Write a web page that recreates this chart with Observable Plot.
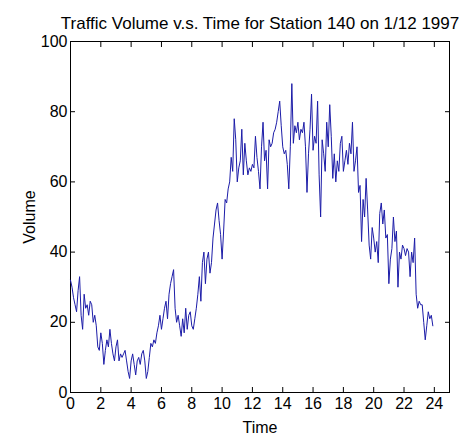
<!DOCTYPE html>
<html><head><meta charset="utf-8">
<script src="https://cdn.jsdelivr.net/npm/d3@7"></script>
<script src="https://cdn.jsdelivr.net/npm/@observablehq/plot@0.6"></script>
<style>
body{margin:0;background:#fff}
svg{font-family:"Liberation Sans",Arial,Helvetica,sans-serif}
</style>
</head><body><div id="chart"></div>
<script>
const title = "Traffic Volume v.s. Time for Station 140 on 1/12 1997";
const xLabel = "Time";
const yLabel = "Volume";
const xTicks = [0,2,4,6,8,10,12,14,16,18,20,22,24];
const yTicks = [0,20,40,60,80,100];

const times = [
 0.0,0.1,0.2,0.3,0.4,0.5,0.6,0.7,0.8,0.9,
 1.0,1.1,1.2,1.3,1.4,1.5,1.6,1.7,1.8,1.9,
 2.0,2.1,2.2,2.3,2.4,2.5,2.6,2.7,2.8,2.9,
 3.0,3.1,3.2,3.3,3.4,3.5,3.6,3.7,3.8,3.9,
 4.0,4.1,4.2,4.3,4.4,4.5,4.6,4.7,4.8,4.9,
 5.0,5.1,5.2,5.3,5.4,5.5,5.6,5.7,5.8,5.9,
 6.0,6.1,6.2,6.3,6.4,6.5,6.6,6.7,6.8,6.9,
 7.0,7.1,7.2,7.3,7.4,7.5,7.6,7.7,7.8,7.9,
 8.0,8.1,8.2,8.3,8.4,8.5,8.6,8.7,8.8,8.9,
 9.0,9.1,9.2,9.3,9.4,9.5,9.6,9.7,9.8,9.9,
 10.0,10.1,10.2,10.3,10.4,10.5,10.6,10.7,10.8,10.9,
 11.0,11.1,11.2,11.3,11.4,11.5,11.6,11.7,11.8,11.9,
 12.0,12.1,12.2,12.3,12.4,12.5,12.6,12.7,12.8,12.9,
 13.0,13.1,13.2,13.3,13.4,13.5,13.6,13.7,13.8,13.9,
 14.0,14.1,14.2,14.3,14.4,14.5,14.6,14.7,14.8,14.9,
 15.0,15.1,15.2,15.3,15.4,15.5,15.6,15.7,15.8,15.9,
 16.0,16.1,16.2,16.3,16.4,16.5,16.6,16.7,16.8,16.9,
 17.0,17.1,17.2,17.3,17.4,17.5,17.6,17.7,17.8,17.9,
 18.0,18.1,18.2,18.3,18.4,18.5,18.6,18.7,18.8,18.9,
 19.0,19.1,19.2,19.3,19.4,19.5,19.6,19.7,19.8,19.9,
 20.0,20.1,20.2,20.3,20.4,20.5,20.6,20.7,20.8,20.9,
 21.0,21.1,21.2,21.3,21.4,21.5,21.6,21.7,21.8,21.9,
 22.0,22.1,22.2,22.3,22.4,22.5,22.6,22.7,22.8,22.9,
 23.0,23.1,23.2,23.3,23.4,23.5,23.6,23.7,23.8,23.9
];
const volumes = [
 32,30,27,25,23,29,33,22,18,28,
 24,25,22,26,25,20,22,19,13,12,
 17,14,8,12,15,13,18,14,11,9,
 13,15,9,11,10,11,12,9,6,4,
 9,11,8,5,9,10,8,11,12,9,
 4,6,10,14,13,15,14,17,19,22,
 18,21,24,26,21,28,31,33,35,24,
 20,22,19,16,21,17,24,18,22,23,
 19,18,21,24,28,33,26,37,40,31,
 38,40,34,37,44,48,52,54,49,45,
 38,46,55,54,58,60,67,63,78,72,
 60,64,66,75,62,71,66,62,64,63,
 65,64,73,67,63,58,70,77,66,69,
 58,72,70,71,74,75,77,80,83,76,
 70,68,69,65,58,70,88,71,76,74,
 77,72,75,74,77,70,57,68,75,85,
 69,73,71,83,62,50,72,68,63,77,
 70,82,73,61,68,60,66,63,71,73,
 63,66,69,65,71,68,77,63,66,70,
 57,59,43,55,50,61,52,42,38,47,
 44,40,43,37,51,54,48,52,44,45,
 31,38,41,50,43,46,30,40,38,42,
 41,39,41,40,33,40,37,44,28,24,
 26,25,25,20,15,19,23,21,22,19
];
const data = times.map((t, i) => ({t, v: volumes[i]}));

const chart = Plot.plot({
  width: 469,
  height: 435,
  marginTop: 41,
  marginLeft: 70,
  marginRight: 20,
  marginBottom: 43,
  style: {fontFamily: '"Liberation Sans", Arial, sans-serif', fontSize: "16px", background: "#fff", color: "#000"},
  x: {domain: [0, 25]},
  y: {domain: [0, 100]},
  marks: [
    Plot.frame({stroke: "#000"}),
    Plot.axisX(xTicks, {anchor: "bottom", tickSize: 0, tickPadding: 5, fontSize: 16,
      label: xLabel, labelAnchor: "center", labelArrow: false, labelOffset: 40}),
    Plot.axisX(xTicks, {anchor: "bottom", tickSize: 5, dy: -5, tickFormat: () => "", label: null}),
    Plot.axisX(xTicks, {anchor: "top", tickSize: 5, dy: 5, tickFormat: () => "", label: null}),
    Plot.axisY(yTicks, {anchor: "left", tickSize: 0, tickPadding: 3, fontSize: 16,
      label: yLabel, labelAnchor: "center", labelArrow: false, labelOffset: 47}),
    Plot.axisY(yTicks, {anchor: "left", tickSize: 5, dx: 5, tickFormat: () => "", label: null}),
    Plot.axisY(yTicks, {anchor: "right", tickSize: 5, dx: -5, tickFormat: () => "", label: null}),
    Plot.line(data, {x: "t", y: "v", stroke: "#1c1ca8", strokeWidth: 1}),
    Plot.text([title], {frameAnchor: "top", dy: -25, fontSize: 17})
  ]
});
document.getElementById("chart").appendChild(chart);
</script>
</body></html>
